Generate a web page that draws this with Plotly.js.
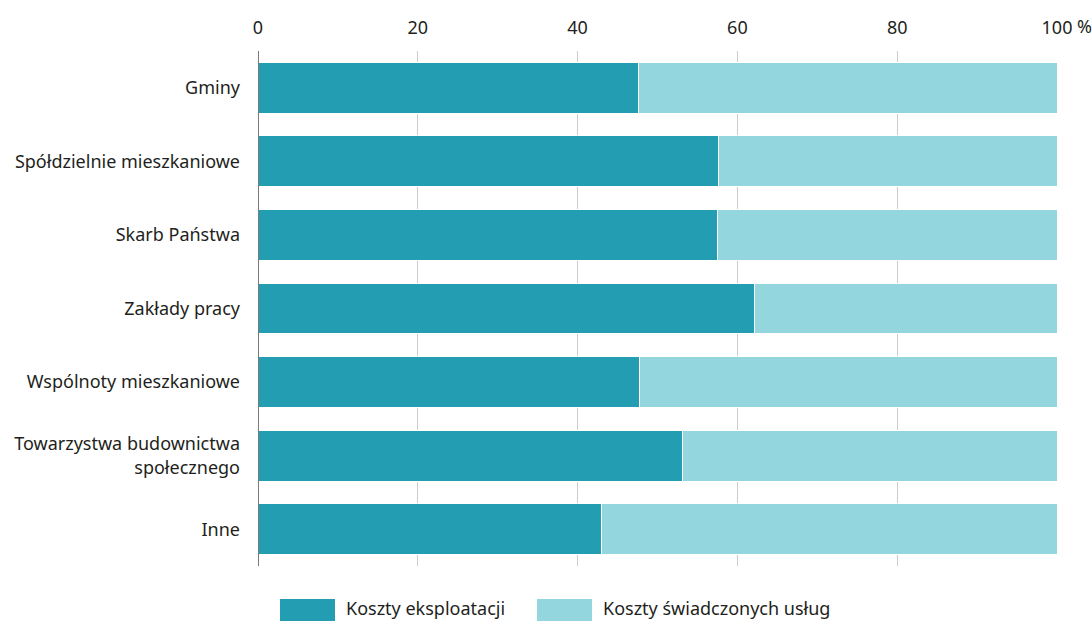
<!DOCTYPE html>
<html><head><meta charset="utf-8">
<script src="https://cdn.plot.ly/plotly-3.0.1.min.js"></script>
<style>body{margin:0;background:#fff}#c{width:1092px;height:621px}</style>
</head><body><div id="c"></div>
<script>
const categories = ["Gminy","Spółdzielnie mieszkaniowe","Skarb Państwa","Zakłady pracy","Wspólnoty mieszkaniowe","Towarzystwa budownictwa<br>społecznego","Inne"];
const kosztyEksploatacji = [47.6, 57.6, 57.5, 62.1, 47.8, 53.1, 43.0];
const kosztyUslug = kosztyEksploatacji.map(v => +(100 - v).toFixed(1));
const seriesNames = ["Koszty eksploatacji","Koszty świadczonych usług"];
const tickVals = [0,20,40,60,80,100];
const tickLabels = ["0","20","40","60","80","100"];
const unitLabel = "%";
const colors = ["#229db2","#93d6de"];

const traces = [kosztyEksploatacji, kosztyUslug].map((vals,i)=>({
  type:'bar', orientation:'h', y:categories, x:vals, name:seriesNames[i],
  marker:{color:colors[i], line:{color:'#ffffff', width:1}},
  width:0.69, showlegend:false, hoverinfo:'x+y'
}));

const font = {family:'"Noto Sans", sans-serif', size:18, color:'#231f20'};
const PW = 799, PH = 515, L = 258, B = 566;
const shapes = [], annotations = [];
const legX = [280, 537];
seriesNames.forEach((n,i)=>{
  shapes.push({type:'rect', xref:'paper', yref:'paper',
    x0:(legX[i]-L)/PW, x1:(legX[i]+55-L)/PW,
    y0:-(599-B)/PH, y1:-(621-B)/PH,
    fillcolor:colors[i], line:{width:0}});
  annotations.push({xref:'paper', yref:'paper', x:(legX[i]+64-L)/PW, y:-(608-B)/PH,
    text:n, showarrow:false, xanchor:'left', yanchor:'middle', font:font});
});
annotations.push({xref:'paper', yref:'paper', x:(1075-L)/PW, y:(566-26)/PH,
  text:unitLabel, showarrow:false, xanchor:'left', yanchor:'middle', font:font});

const layout = {
  width:1092, height:621,
  margin:{l:L, r:35, t:51, b:55},
  paper_bgcolor:'#fff', plot_bgcolor:'#fff',
  barmode:'stack', font:font, showlegend:false,
  xaxis:{side:'top', range:[0,100], tickvals:tickVals, ticktext:tickLabels,
    showgrid:true, gridcolor:'#cccccc', gridwidth:1, zeroline:false,
    showline:false, ticks:'', ticklabelstandoff:12, fixedrange:true},
  yaxis:{autorange:'reversed', showgrid:false, zeroline:false, ticks:'',
    ticklabelstandoff:17, showline:false},
  shapes:shapes.concat([{type:'line', xref:'x', yref:'paper', x0:0, x1:0, y0:0, y1:1,
    line:{color:'#231f20', width:1.2}}]),
  annotations:annotations
};
Plotly.newPlot('c', traces, layout, {displayModeBar:false, staticPlot:true});
</script></body></html>
